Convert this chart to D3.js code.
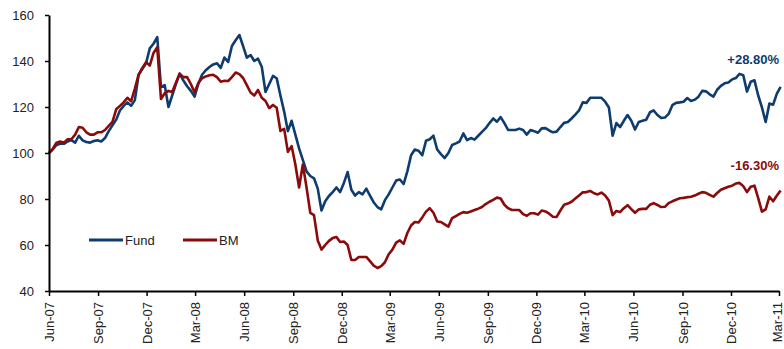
<!DOCTYPE html>
<html>
<head>
<meta charset="utf-8">
<script src="https://cdn.jsdelivr.net/npm/d3@7"></script>
<style>
  html, body { margin: 0; padding: 0; background: #fff; }
  svg { display: block; }
  text { font-family: "Liberation Sans", Arial, sans-serif; }
</style>
</head>
<body>
<svg id="chart" width="784" height="349"></svg>
<script>
// Weekly index values, starting 1 Jun 2007
const startDate = "2007-06-01";
const endDate = "2011-03-01";
const seriesNames = ["Fund", "BM"];
const fundValues = [
  100, 101.5, 103.5, 104, 104, 105, 105.6, 104.5, 107.5, 105.5,
  104.8, 104.5, 105.2, 105.5, 105, 106.5, 109.5, 112, 114.5, 118.5,
  120.5, 122, 120.5, 123, 134, 136.5, 139, 145.5, 147.5, 150.4,
  128.7, 129.5, 120, 125, 130, 134.5, 131.5, 129, 127, 124.5,
  130, 134, 136, 137.4, 138.5, 139, 137, 141.5, 139.6, 146.5,
  149, 151.3, 146.5, 141.5, 142.6, 140, 141, 137.5, 126.5, 130,
  133.5, 132.5, 125, 118, 109.5, 114, 108, 102, 97, 92,
  90, 89, 84.5, 75, 79, 81.3, 83, 85, 83, 87,
  91.7, 84, 81.5, 83, 82, 84.5, 81.5, 78.5, 76.5, 75.5,
  79.5, 82, 85, 88, 88.5, 86.5, 92, 99, 101.5, 101,
  99, 105.3, 106, 107.5, 101.5, 99.5, 97.8, 100, 103.5, 104.2,
  105, 108.5, 105.6, 106.5, 105.8, 107.5, 109.2, 110.8, 113, 115,
  113.6, 115.6, 113, 110, 110, 110, 110.6, 110, 108, 110,
  109.5, 108.8, 110.7, 110.8, 109.8, 109, 109.3, 111.3, 113.1, 113.5,
  115, 116.7, 118.5, 122, 121.8, 124, 124, 124, 124, 122.3,
  119.8, 107.5, 113, 111.3, 114, 116.5, 114, 110.2, 113.5, 114,
  114.5, 117.7, 118.5, 116.5, 115.2, 115.4, 117, 120.8, 121.8, 122,
  122.3, 123.9, 122.6, 123.2, 124.5, 127, 126.8, 125.5, 124.5, 127.5,
  129.2, 130.3, 130.7, 132, 132.6, 134.4, 133.8, 126.7, 131, 131.6,
  125, 119.8, 113.5, 121.5, 121, 125.8, 128.8
];
const bmValues = [
  100, 101.8, 104.5, 105, 104.5, 106, 106, 108, 111.3, 111,
  109, 108, 108, 109, 109, 110, 111.8, 113.5, 119, 120.5,
  122, 124, 122.5, 128, 134, 137, 139.5, 138, 143.5, 146,
  123.5, 126, 127, 126.5, 130.5, 134.5, 133, 133, 130, 126.3,
  130.4, 132.5, 133.3, 133.8, 134, 133, 131, 131.4, 131.3, 133,
  135, 134.3, 132.6, 129.5, 126.3, 125, 127.4, 124, 122.6, 119.5,
  120.9, 119.7, 109.6, 110.5, 100.5, 103, 95, 85, 95, 85,
  74, 73, 62, 58, 60, 61.8, 63, 63.5, 61.3, 61.5,
  60, 53.5, 53.5, 54.8, 54.8, 54.8, 53, 51, 50, 50.8,
  52.5, 56, 58, 61, 62, 60.5, 65.2, 68.5, 70, 69.8,
  72, 74.5, 76, 74, 70.2, 70, 69, 68, 71.7, 72.6,
  73.5, 74.3, 74, 74.6, 75.2, 75.8, 76.5, 77.8, 78.8, 79.6,
  80.6, 80.2, 77.5, 76, 75.2, 75.2, 75.2, 73.4, 72.7, 73.8,
  73.8, 73.2, 75, 74.6, 73.6, 72.3, 72.2, 75, 77.5, 78,
  78.8, 80.2, 81.5, 82.9, 83, 83.5, 82.5, 82, 82.8, 81.5,
  79.3, 73, 74.8, 74.3, 76, 77.3, 75.6, 74, 75.5, 75.7,
  75.7, 77.5, 78.2, 77.4, 76.5, 76.6, 78.2, 79, 79.7, 80.3,
  80.5, 80.8, 81, 81.5, 82.3, 83, 82.7, 81.8, 81, 82.6,
  84, 84.7, 85.3, 85.8, 86.7, 87, 85.6, 83, 85.3, 85.8,
  80.4, 74.5, 75.5, 81, 79, 81.5, 83.7
];
const endLabels = ["+28.80%", "-16.30%"];
const yTicks = [40, 60, 80, 100, 120, 140, 160];

const colors = ["#0F3C6E", "#8B0A0A"];

const svg = d3.select("#chart");
const parse = d3.timeParse("%Y-%m-%d");
const t0 = parse(startDate), t1 = parse(endDate);
const dates = fundValues.map((_, i) => d3.timeDay.offset(t0, 7 * i));

const x = d3.scaleTime().domain([t0, t1]).range([49, 779]);
const y = d3.scaleLinear().domain([40, 160]).range([291, 15]);

const series = [fundValues, bmValues];
const line = d3.line().x((d, i) => x(dates[i])).y(d => y(d));

// Lines (Fund below, BM on top)
series.forEach((vals, k) => {
  svg.append("path")
    .datum(vals)
    .attr("fill", "none")
    .attr("stroke", colors[k])
    .attr("stroke-width", 2.6)
    .attr("stroke-linejoin", "round")
    .attr("d", line);
});

// Y axis
const yAxis = d3.axisLeft(y).tickValues(yTicks).tickSize(4).tickSizeOuter(0).tickPadding(11);
const gy = svg.append("g").attr("transform", "translate(49,0)").call(yAxis);
gy.select(".domain").attr("stroke", "#000").attr("stroke-width", 2);
gy.selectAll(".tick line").attr("stroke", "#000").attr("stroke-width", 1.5);
gy.selectAll(".tick text").attr("font-size", 13).attr("fill", "#222")
  .attr("font-family", "'Liberation Sans', Arial, sans-serif");

// X axis: quarterly ticks starting at Jun-07
const xTicks = d3.timeMonth.range(t0, d3.timeDay.offset(t1, 1), 3);
const xAxis = d3.axisBottom(x).tickValues(xTicks).tickFormat(d3.timeFormat("%b-%y"))
  .tickSize(5).tickSizeOuter(0);
const gx = svg.append("g").attr("transform", "translate(0,291)").call(xAxis);
gx.select(".domain").attr("stroke", "#000").attr("stroke-width", 2.2);
gx.selectAll(".tick line").attr("stroke", "#000").attr("stroke-width", 1.5);
const nTicks = xTicks.length;
gx.selectAll(".tick text")
  .attr("font-size", 13).attr("fill", "#222")
  .attr("font-family", "'Liberation Sans', Arial, sans-serif")
  .attr("text-anchor", "end")
  .attr("transform", (d, i) => i === nTicks - 1 ? "translate(-2,0) rotate(-90)" : "rotate(-90)")
  .attr("x", -11).attr("y", 0).attr("dy", "0.35em");

// End labels
const offsets = [-23, -20];
series.forEach((vals, k) => {
  svg.append("text")
    .attr("x", 779)
    .attr("y", y(vals[vals.length - 1]) + offsets[k])
    .attr("text-anchor", "end")
    .attr("font-size", 13)
    .attr("font-weight", "bold")
    .attr("fill", colors[k])
    .text(endLabels[k]);
});

// Legend
const legendX = [89, 183];
seriesNames.forEach((name, k) => {
  const g = svg.append("g").attr("transform", `translate(${legendX[k]},240)`);
  g.append("line").attr("x1", 0).attr("x2", 34).attr("y1", 0).attr("y2", 0)
    .attr("stroke", colors[k]).attr("stroke-width", 3);
  g.append("text").attr("x", 36).attr("y", 5).attr("font-size", 13).attr("fill", "#222")
    .text(name);
});
</script>
</body>
</html>
